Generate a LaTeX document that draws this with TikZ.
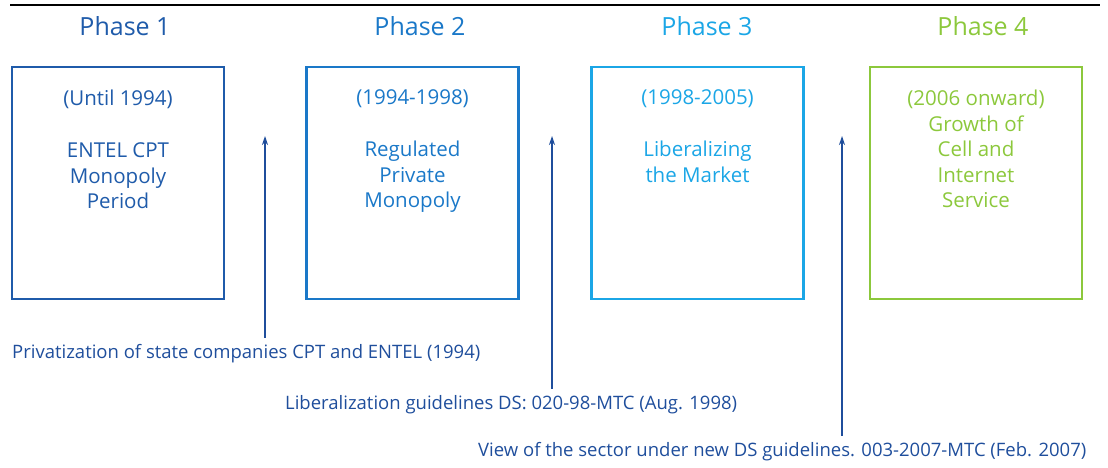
\documentclass[tikz,border=0pt]{standalone}
\usepackage{fontspec}
\setmainfont{Open Sans}
\usetikzlibrary{arrows.meta}
\definecolor{ph1}{HTML}{1F5BAA}
\definecolor{ph2}{HTML}{1A78C8}
\definecolor{ph3}{HTML}{1BA6E6}
\definecolor{ph4}{HTML}{8CC83C}
\definecolor{arrowblue}{HTML}{1F4E9C}
\begin{document}
\begin{tikzpicture}[x=1pt,y=1pt,
  phasebox/.style={draw, line width=2.5pt, minimum width=212pt, minimum height=232pt, inner sep=0pt},
  phasetitle/.style={font=\fontsize{25}{30}\selectfont, inner sep=0pt},
  phasetext/.style={font=\fontsize{20.5}{25.5}\selectfont, align=center, anchor=north, inner sep=0pt},
  eventlabel/.style={font=\fontsize{18.5}{22}\selectfont, text=arrowblue, inner sep=0pt, anchor=west},
  eventarrow/.style={draw=arrowblue, line width=1.2pt, -{Stealth[length=9pt,width=6pt]}}
]
\useasboundingbox (0,0) rectangle (1108,-467);

% rule across the top
\draw[line width=2pt] (10,-5) -- (1100,-5);

% phase headings
\node[phasetitle, text=ph1] (h1) at (125,-26) {Phase 1};
\node[phasetitle, text=ph2] (h2) at (420,-26) {Phase 2};
\node[phasetitle, text=ph3] (h3) at (707,-26) {Phase 3};
\node[phasetitle, text=ph4] (h4) at (983,-26) {Phase 4};

% phase boxes
\node[phasebox, draw=ph1] (b1) at (118,-183) {};
\node[phasebox, draw=ph2] (b2) at (412.5,-183) {};
\node[phasebox, draw=ph3] (b3) at (697.5,-183) {};
\node[phasebox, draw=ph4] (b4) at (976,-183) {};

% box contents
\node[phasetext, text=ph1] (t1) at ([yshift=-24pt]b1.north) {(Until 1994)\\[26.5pt]ENTEL CPT\\Monopoly\\Period};
\node[phasetext, text=ph2] (t2) at ([yshift=-24pt]b2.north) {(1994-1998)\\[26.5pt]Regulated\\Private\\Monopoly};
\node[phasetext, text=ph3] (t3) at ([yshift=-24pt]b3.north) {(1998-2005)\\[26.5pt]Liberalizing\\the Market};
\node[phasetext, text=ph4] (t4) at ([yshift=-24pt]b4.north) {(2006 onward)\\Growth of\\Cell and\\Internet\\Service};

% events below the timeline
\node[eventlabel] (e1) at (12,-354) {Privatization of state companies CPT and ENTEL (1994)};
\node[eventlabel] (e2) at (285,-405) {Liberalization guidelines DS: 020-98-MTC (Aug. 1998)};
\node[eventlabel] (e3) at (478,-452) {View of the sector under new DS guidelines. 003-2007-MTC (Feb. 2007)};

% arrow tips between the boxes
\coordinate (a1) at (265,-136);
\coordinate (a2) at (552,-136);
\coordinate (a3) at (842,-136);

\draw[eventarrow] (e1.north -| a1) ++(0,7) -- (a1);
\draw[eventarrow] (e2.north -| a2) ++(0,7) -- (a2);
\draw[eventarrow] (e3.north -| a3) ++(0,7) -- (a3);
\end{tikzpicture}
\end{document}
